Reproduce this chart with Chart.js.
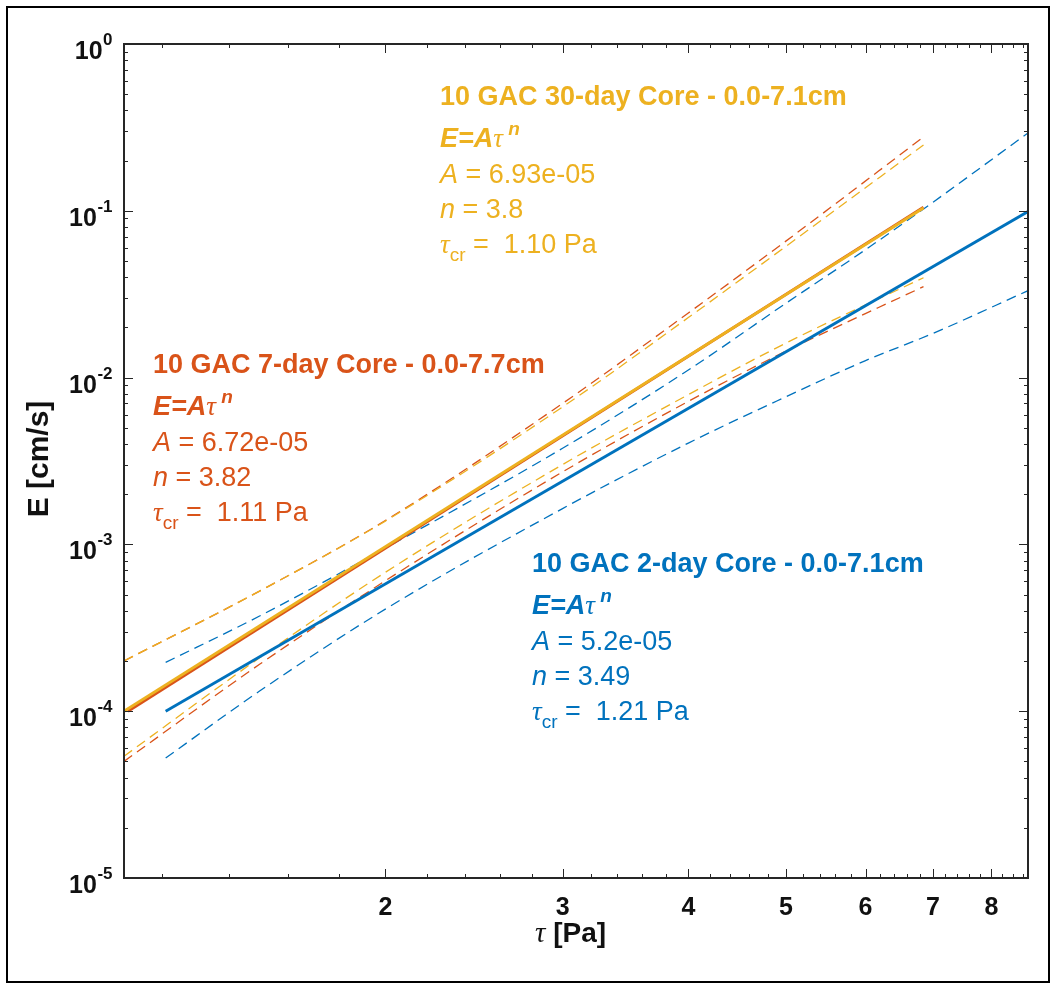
<!DOCTYPE html>
<html>
<head>
<meta charset="utf-8">
<script src="https://cdn.jsdelivr.net/npm/chart.js@4.4.0/dist/chart.umd.min.js"></script>
<style>
  body { margin: 0; background: #fff; }
  #wrap { width: 1053px; height: 986px; }
</style>
</head>
<body>
<div id="wrap"><canvas id="chart" width="1053" height="986"></canvas></div>
<script>
// 10 GAC 2-day core (blue)
var tau2 = [1.21, 1.5, 2, 3, 4, 5, 6, 7, 8.7];
var upper2 = [1.96e-4, 3.72e-4, 9.5e-4, 3.77e-3, 0.0111, 0.0279, 0.0585, 0.1125, 0.293];
var lower2 = [5.24e-5, 1.32e-4, 4.09e-4, 1.64e-3, 4.05e-3, 7.67e-3, 0.01265, 0.0184, 0.0332];
var fitTau2 = [1.21, 8.7];
var fitE2 = [1.0e-4, 0.099];

// 10 GAC 7-day core (red)
var tau7 = [1.10, 1.5, 2, 3, 4, 5, 6.85];
var upper7 = [2.0e-4, 5.25e-4, 1.39e-3, 7.0e-3, 0.0244, 0.0658, 0.277];
var lower7 = [5.0e-5, 1.91e-4, 6.05e-4, 2.72e-3, 7.2e-3, 0.0144, 0.0351];
var fitTau7 = [1.11, 6.85];
var fitE7 = [1.0e-4, 0.105];

// 10 GAC 30-day core (yellow)
var tau30 = [1.10, 1.5, 2, 3, 4, 5, 6.85];
var upper30 = [2.0e-4, 5.25e-4, 1.38e-3, 6.67e-3, 0.0229, 0.0612, 0.248];
var lower30 = [5.37e-5, 2.09e-4, 6.8e-4, 3.01e-3, 7.9e-3, 0.0161, 0.0397];
var fitTau30 = [1.10, 6.85];
var fitE30 = [1.0e-4, 0.104];

// axes
var xTicks = [2, 3, 4, 5, 6, 7, 8];
var yExponents = [0, -1, -2, -3, -4, -5];

var BLUE = "#0072BD", RED = "#D95319", YELLOW = "#EDB120";
var AXIS = "#262626";
var SANS = '"Liberation Sans", Arial, sans-serif';
var SERIF = '"Liberation Serif", serif';

function pts(xs, ys) {
  return xs.map(function (x, i) { return { x: x, y: ys[i] }; });
}

function fitLine(xs, ys, color, order) {
  return { data: pts(xs, ys), borderColor: color, borderWidth: 2.8, order: order };
}
function bandLine(xs, ys, color, order) {
  return { data: pts(xs, ys), borderColor: color, borderWidth: 1.3, borderDash: [10, 6],
           cubicInterpolationMode: "monotone", order: order };
}

// draws a run of text pieces: [text, font, dy]
function drawParts(ctx, x, y, parts) {
  parts.forEach(function (p) {
    ctx.font = p[1];
    ctx.fillText(p[0], x, y + (p[2] || 0));
    x += ctx.measureText(p[0]).width;
  });
}

function fitBlock(ctx, x, y, color, title, A, n, tcr) {
  var b = "bold 27px " + SANS, r = "27px " + SANS, i = "italic 27px " + SANS;
  var tau = "italic 27px " + SERIF;
  ctx.fillStyle = color;
  ctx.textAlign = "left";
  ctx.textBaseline = "alphabetic";
  drawParts(ctx, x, y, [[title, b]]);
  drawParts(ctx, x, y + 42, [["E=A", "bold italic 27px " + SANS], ["\u03c4", tau], ["\u2009", r],
                             ["n", "bold italic 19px " + SANS, -12]]);
  drawParts(ctx, x, y + 78, [["A", i], [" = " + A, r]]);
  drawParts(ctx, x, y + 113, [["n", i], [" = " + n, r]]);
  drawParts(ctx, x, y + 148, [["\u03c4", tau], ["cr", "19px " + SANS, 8], [" =  " + tcr + " Pa", r]]);
}

var axesPlugin = {
  id: "matlabAxes",
  beforeDraw: function (chart) {
    var ctx = chart.ctx;
    ctx.save();
    ctx.fillStyle = "#fff";
    ctx.fillRect(0, 0, chart.width, chart.height);
    ctx.restore();
  },
  afterDraw: function (chart) {
    var ctx = chart.ctx, a = chart.chartArea;
    var xs = chart.scales.x, ys = chart.scales.y;
    ctx.save();
    ctx.strokeStyle = AXIS;
    ctx.lineWidth = 1;
    ctx.beginPath();
    // x ticks (major + minor every 0.2)
    for (var v = 1.2; v < xs.max; v += 0.2) {
      var t = Math.round(v * 10) / 10;
      var px = Math.round(xs.getPixelForValue(t)) + 0.5;
      var len = xTicks.indexOf(t) >= 0 ? 9 : 4;
      ctx.moveTo(px, a.bottom); ctx.lineTo(px, a.bottom - len);
      ctx.moveTo(px, a.top); ctx.lineTo(px, a.top + len);
    }
    // y ticks
    for (var e = -5; e < 0; e++) {
      for (var m = 1; m <= 9; m++) {
        var py = Math.round(ys.getPixelForValue(m * Math.pow(10, e))) + 0.5;
        var l2 = m === 1 ? 9 : 4;
        ctx.moveTo(a.left, py); ctx.lineTo(a.left + l2, py);
        ctx.moveTo(a.right, py); ctx.lineTo(a.right - l2, py);
      }
    }
    ctx.stroke();
    ctx.lineWidth = 2;
    ctx.strokeRect(a.left, a.top, a.right - a.left, a.bottom - a.top);

    // outer frame
    ctx.strokeStyle = "#000";
    ctx.lineWidth = 2;
    ctx.strokeRect(7, 7, 1042, 975);

    // tick labels
    ctx.fillStyle = "#111";
    ctx.textBaseline = "alphabetic";
    ctx.textAlign = "center";
    ctx.font = "bold 25px " + SANS;
    xTicks.forEach(function (t) {
      ctx.fillText(String(t), xs.getPixelForValue(t), a.bottom + 37);
    });
    ctx.textAlign = "left";
    yExponents.forEach(function (ex) {
      var py = ys.getPixelForValue(Math.pow(10, ex));
      ctx.font = "bold 25px " + SANS;
      var w1 = ctx.measureText("10").width;
      ctx.font = "bold 17px " + SANS;
      var w2 = ctx.measureText(String(ex)).width;
      var x0 = 114 - w1 - w2 - 2;
      drawParts(ctx, x0, py + 15, [["10", "bold 25px " + SANS], [" ", "2px " + SANS], [String(ex), "bold 17px " + SANS, -14]]);
    });

    // axis titles
    drawParts(ctx, 535, 942, [["\u03c4", "italic 29px " + SERIF], [" [Pa]", "bold 28px " + SANS]]);
    ctx.save();
    ctx.translate(48, 459);
    ctx.rotate(-Math.PI / 2);
    ctx.textAlign = "center";
    ctx.font = "bold 30px " + SANS;
    ctx.fillText("E [cm/s]", 0, 0);
    ctx.restore();

    // fit annotations
    fitBlock(ctx, 440, 105, YELLOW, "10 GAC 30-day Core - 0.0-7.1cm", "6.93e-05", "3.8", "1.10");
    fitBlock(ctx, 153, 373, RED, "10 GAC 7-day Core - 0.0-7.7cm", "6.72e-05", "3.82", "1.11");
    fitBlock(ctx, 532, 572, BLUE, "10 GAC 2-day Core - 0.0-7.1cm", "5.2e-05", "3.49", "1.21");
    ctx.restore();
  }
};

new Chart(document.getElementById("chart"), {
  type: "scatter",
  data: {
    datasets: [
      fitLine(fitTau30, fitE30, YELLOW, 0),
      fitLine(fitTau7, fitE7, RED, 1),
      fitLine(fitTau2, fitE2, BLUE, 2),
      bandLine(tau30, upper30, YELLOW, 3),
      bandLine(tau30, lower30, YELLOW, 3),
      bandLine(tau7, upper7, RED, 4),
      bandLine(tau7, lower7, RED, 4),
      bandLine(tau2, upper2, BLUE, 5),
      bandLine(tau2, lower2, BLUE, 5)
    ]
  },
  options: {
    responsive: false,
    animation: false,
    devicePixelRatio: 1,
    showLine: true,
    elements: { point: { radius: 0 }, line: { fill: false } },
    layout: { padding: { left: 124, top: 44, right: 25, bottom: 108 } },
    plugins: { legend: { display: false }, tooltip: { enabled: false } },
    scales: {
      x: { type: "logarithmic", display: false, min: 1.1, max: 8.7 },
      y: { type: "logarithmic", display: false, min: 1e-5, max: 1 }
    }
  },
  plugins: [axesPlugin]
});
</script>
</body>
</html>
